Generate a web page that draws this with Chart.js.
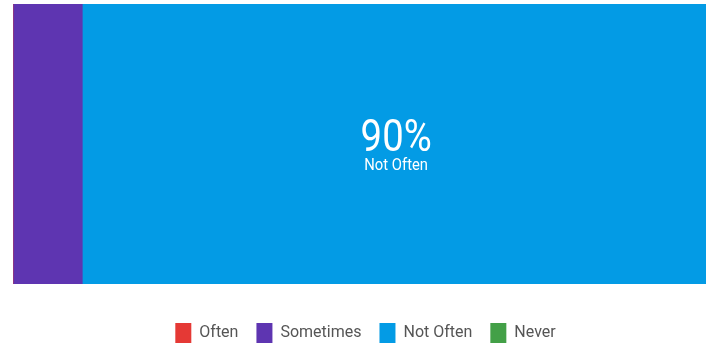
<!DOCTYPE html>
<html>
<head>
<meta charset="utf-8">
<script src="https://cdn.jsdelivr.net/npm/chart.js@4"></script>
<style>
  html, body { margin: 0; padding: 0; background: #fff; }
  #wrap { width: 706px; height: 350px; }
</style>
</head>
<body>
<div id="wrap"><canvas id="barChart"></canvas></div>
<script>
const categories = ['Often', 'Sometimes', 'Not Often', 'Never'];
const values = [0, 10, 90, 0];
const colors = ['#e53935', '#5e35b1', '#039be5', '#43a047'];

// big percentage + name on the largest segment
const centerLabel = {
  id: 'centerLabel',
  afterLayout(chart) {
    // nudge legend row a bit to the right
    chart.legend.left += 12;
  },
  afterDatasetsDraw(chart) {
    let top = 0;
    values.forEach((v, i) => { if (v > values[top]) top = i; });
    const bar = chart.getDatasetMeta(top).data[0];
    if (!bar) return;
    const props = bar.getProps(['x', 'y', 'base'], true);
    const cx = (props.x + props.base) / 2;
    const ctx = chart.ctx;
    ctx.save();
    ctx.translate(cx + 2, props.y);
    ctx.scale(0.87, 1);
    ctx.fillStyle = '#fff';
    ctx.textAlign = 'center';
    ctx.textBaseline = 'alphabetic';
    ctx.font = '44px Roboto, sans-serif';
    ctx.fillText(values[top] + '%', 0, 6.5);
    ctx.font = '17px Roboto, sans-serif';
    ctx.fillText(categories[top], 0, 26);
    ctx.restore();
  }
};

const ctx = document.getElementById('barChart').getContext('2d');
new Chart(ctx, {
  type: 'bar',
  data: {
    labels: [''],
    datasets: categories.map((name, i) => ({
      label: name,
      data: [values[i]],
      backgroundColor: colors[i],
      borderWidth: 0,
      barPercentage: 1,
      categoryPercentage: 1
    }))
  },
  options: {
    indexAxis: 'y',
    responsive: true,
    maintainAspectRatio: false,
    animation: false,
    layout: { padding: { left: 13, top: 4, right: 0, bottom: -3 } },
    scales: {
      x: {
        stacked: true, min: 0, max: 100,
        ticks: { display: false },
        grid: { display: false },
        border: { display: false },
        // empty strip between bar and legend
        afterFit(scale) { scale.height = 21; }
      },
      y: { stacked: true, display: false }
    },
    plugins: {
      legend: {
        position: 'bottom',
        labels: {
          boxWidth: 16,
          boxHeight: 20,
          padding: 18,
          color: '#555',
          font: { family: 'Roboto, sans-serif', size: 16 }
        }
      },
      tooltip: { enabled: false }
    }
  },
  plugins: [centerLabel]
});
</script>
</body>
</html>
